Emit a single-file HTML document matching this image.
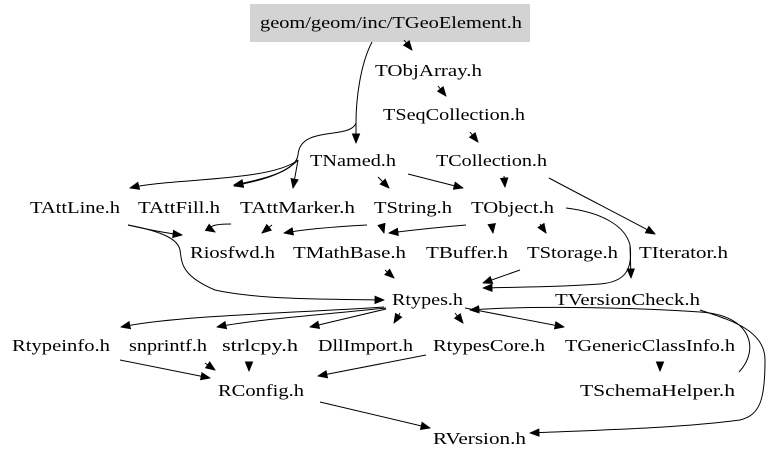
<!DOCTYPE html>
<html><head><meta charset="utf-8"><style>
html,body{margin:0;padding:0;background:#fff;width:768px;height:460px;overflow:hidden}
svg text{font-family:"Liberation Serif",serif;font-size:17px;fill:#000}
path{fill:none;stroke:#000;stroke-width:1}
</style></head><body>
<svg width="768" height="460" viewBox="0 0 768 460" xmlns="http://www.w3.org/2000/svg">
<defs><marker id="a" viewBox="0 0 10 10" refX="10" refY="5" markerWidth="10" markerHeight="9" orient="auto" markerUnits="userSpaceOnUse"><path d="M0,1 L10,5 L0,9 z" style="fill:#000;stroke:#000"/></marker></defs>
<rect x="250" y="4" width="280" height="38" fill="#d3d3d3"/>
<text x="260" y="28" textLength="262" lengthAdjust="spacingAndGlyphs">geom/geom/inc/TGeoElement.h</text>
<text x="375" y="76" textLength="107" lengthAdjust="spacingAndGlyphs">TObjArray.h</text>
<text x="383" y="120" textLength="142" lengthAdjust="spacingAndGlyphs">TSeqCollection.h</text>
<text x="310" y="166" textLength="86" lengthAdjust="spacingAndGlyphs">TNamed.h</text>
<text x="436" y="166" textLength="111" lengthAdjust="spacingAndGlyphs">TCollection.h</text>
<text x="30" y="213" textLength="90" lengthAdjust="spacingAndGlyphs">TAttLine.h</text>
<text x="138" y="213" textLength="82" lengthAdjust="spacingAndGlyphs">TAttFill.h</text>
<text x="240" y="213" textLength="115" lengthAdjust="spacingAndGlyphs">TAttMarker.h</text>
<text x="374" y="213" textLength="78" lengthAdjust="spacingAndGlyphs">TString.h</text>
<text x="471" y="213" textLength="83" lengthAdjust="spacingAndGlyphs">TObject.h</text>
<text x="190" y="258" textLength="85" lengthAdjust="spacingAndGlyphs">Riosfwd.h</text>
<text x="293" y="258" textLength="113" lengthAdjust="spacingAndGlyphs">TMathBase.h</text>
<text x="426" y="258" textLength="82" lengthAdjust="spacingAndGlyphs">TBuffer.h</text>
<text x="527" y="258" textLength="91" lengthAdjust="spacingAndGlyphs">TStorage.h</text>
<text x="639" y="258" textLength="89" lengthAdjust="spacingAndGlyphs">TIterator.h</text>
<text x="392" y="305" textLength="71" lengthAdjust="spacingAndGlyphs">Rtypes.h</text>
<text x="555" y="305" textLength="145" lengthAdjust="spacingAndGlyphs">TVersionCheck.h</text>
<text x="12" y="351" textLength="98" lengthAdjust="spacingAndGlyphs">Rtypeinfo.h</text>
<text x="129" y="351" textLength="78" lengthAdjust="spacingAndGlyphs">snprintf.h</text>
<text x="222" y="351" textLength="76" lengthAdjust="spacingAndGlyphs">strlcpy.h</text>
<text x="318" y="351" textLength="95" lengthAdjust="spacingAndGlyphs">DllImport.h</text>
<text x="433" y="351" textLength="112" lengthAdjust="spacingAndGlyphs">RtypesCore.h</text>
<text x="565" y="351" textLength="170" lengthAdjust="spacingAndGlyphs">TGenericClassInfo.h</text>
<text x="218" y="396" textLength="86" lengthAdjust="spacingAndGlyphs">RConfig.h</text>
<text x="580" y="396" textLength="155" lengthAdjust="spacingAndGlyphs">TSchemaHelper.h</text>
<text x="433" y="444" textLength="93" lengthAdjust="spacingAndGlyphs">RVersion.h</text>
<g marker-end="url(#a)">
<path d="M404,40 L412,50"/>
<path d="M438,86 L446,96"/>
<path d="M470,132 L478,142"/>
<path d="M372,42 C360,65 356,100 356,123 L356,143"/>
<path d="M356,123 C350,140 300,125 298,155 C296,170 270,178 234,185"/>
<path d="M298,160 C270,182 170,178 130,188"/>
<path d="M298,160 C280,178 250,182 234,186"/>
<path d="M298,160 L293,188"/>
<path d="M378,177 L389,188"/>
<path d="M408,174 L463,188"/>
<path d="M504,176 L505,187"/>
<path d="M549,178 C590,200 630,220 655,234"/>
<path d="M128,225 C150,230 165,233 182,235"/>
<path d="M128,225 C165,232 178,240 180,250 C182,262 180,275 215,290 C260,300 330,299 384,300"/>
<path d="M231,224 C215,224 205,226 215,232" />
<path d="M272,225 L262,233"/>
<path d="M367,225 C330,227 300,230 284,233"/>
<path d="M382,226 L384,233"/>
<path d="M466,225 C430,228 405,231 389,233"/>
<path d="M492,226 L493,233"/>
<path d="M540,224 L546,233"/>
<path d="M566,208 C600,212 625,225 630,245 L631,278"/>
<path d="M630,245 C633,270 625,282 600,284 C560,287 520,287 483,288"/>
<path d="M385,270 L394,278"/>
<path d="M520,270 L483,283"/>
<path d="M384,307 C300,313 180,315 121,327"/>
<path d="M386,308 C320,315 250,320 217,327"/>
<path d="M386,309 L310,327"/>
<path d="M400,313 L394,323"/>
<path d="M455,313 L463,323"/>
<path d="M465,308 L564,327"/>
<path d="M739,372 C760,350 752,315 700,312 C640,308 540,305 470,310"/>
<path d="M660,362 L660,371"/>
<path d="M700,310 C730,320 765,330 765,360 C765,400 760,415 740,420 C680,428 600,430 530,433"/>
<path d="M120,360 L210,378"/>
<path d="M205,363 L215,370"/>
<path d="M249,362 L249,371"/>
<path d="M426,355 L318,376"/>
<path d="M320,402 L430,428"/>
</g>
</svg>
</body></html>
